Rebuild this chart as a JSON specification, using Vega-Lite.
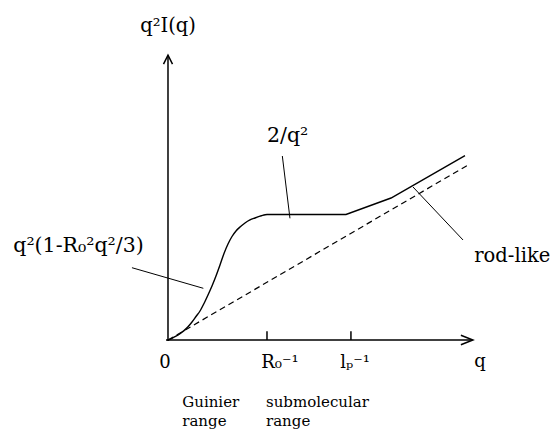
{
  "$schema": "https://vega.github.io/schema/vega-lite/v6.json",
  "autosize": {"type": "fit", "contains": "padding"},
  "width": 552,
  "height": 430,
  "padding": 0,
  "background": "white",
  "config": {"view": {"stroke": null}},
  "datasets": {
    "axes": [
      {"q": -0.02, "q2I": 0, "q_end": 3.07, "q2I_end": 0},
      {"q": 0, "q2I": -0.016, "q_end": 0, "q2I_end": 4.53},
      {"q": 1.0, "q2I": 0, "q_end": 1.0, "q2I_end": 0.14},
      {"q": 1.848, "q2I": 0, "q_end": 1.848, "q2I_end": 0.14}
    ],
    "q_arrow": [{"q": 3.08, "q2I": 0}],
    "intensity_arrow": [{"q": 0, "q2I": 4.54}],
    "guinier": [
      {"q": 0, "q2I": 0},
      {"q": 0.0404, "q2I": 0.0271},
      {"q": 0.0808, "q2I": 0.0606},
      {"q": 0.1212, "q2I": 0.1004},
      {"q": 0.1616, "q2I": 0.1498},
      {"q": 0.202, "q2I": 0.2104},
      {"q": 0.2424, "q2I": 0.2869},
      {"q": 0.2828, "q2I": 0.3745},
      {"q": 0.3232, "q2I": 0.4622},
      {"q": 0.3636, "q2I": 0.5817},
      {"q": 0.404, "q2I": 0.7171},
      {"q": 0.4444, "q2I": 0.8606},
      {"q": 0.4848, "q2I": 1.0199},
      {"q": 0.5253, "q2I": 1.1952},
      {"q": 0.5657, "q2I": 1.3785},
      {"q": 0.6061, "q2I": 1.5299},
      {"q": 0.6465, "q2I": 1.6494},
      {"q": 0.6869, "q2I": 1.7371},
      {"q": 0.7273, "q2I": 1.8008},
      {"q": 0.7778, "q2I": 1.8645},
      {"q": 0.8283, "q2I": 1.9124},
      {"q": 0.8788, "q2I": 1.9442},
      {"q": 0.9293, "q2I": 1.9729},
      {"q": 0.9697, "q2I": 1.992},
      {"q": 1.0, "q2I": 2.0}
    ],
    "plateau_rod": [
      {"q": 1.0, "q2I": 2.0},
      {"q": 1.798, "q2I": 2.0},
      {"q": 2.253, "q2I": 2.263},
      {"q": 3.0, "q2I": 2.937}
    ],
    "rod_asymptote": [
      {"q": 0, "q2I": 0},
      {"q": 3.05, "q2I": 2.806}
    ],
    "leaders": [
      {"q": -0.364, "q2I": 1.152, "q_end": 0.357, "q2I_end": 0.824},
      {"q": 1.155, "q2I": 2.932, "q_end": 1.232, "q2I_end": 1.939},
      {"q": 2.475, "q2I": 2.438, "q_end": 2.98, "q2I_end": 1.594}
    ],
    "formulas": [
      {"q": 1.0, "q2I": 3.16, "text": "2/q²"},
      {"q": -1.563, "q2I": 1.407, "text": "q²(1-R₀²q²/3)"}
    ],
    "regimes": [
      {"q": 3.094, "q2I": 1.248, "text": "rod-like"}
    ],
    "axis_titles": [
      {"q": 0, "q2I": 4.913, "text": "q²I(q)"}
    ],
    "tick_labels": [
      {"q": -0.03, "q2I": -0.451, "text": "0"},
      {"q": 1.131, "q2I": -0.451, "text": "R₀⁻¹"},
      {"q": 1.889, "q2I": -0.451, "text": "lₚ⁻¹"},
      {"q": 3.152, "q2I": -0.43, "text": "q"}
    ],
    "ranges": [
      {"q": 0.144, "q2I": -1.073, "text": "Guinier"},
      {"q": 0.144, "q2I": -1.371, "text": "range"},
      {"q": 0.99, "q2I": -1.073, "text": "submolecular"},
      {"q": 0.99, "q2I": -1.371, "text": "range"}
    ]
  },
  "encoding": {
    "x": {"field": "q", "type": "quantitative", "scale": {"domain": [-1.697, 3.879], "nice": false, "zero": false}, "axis": null},
    "y": {"field": "q2I", "type": "quantitative", "scale": {"domain": [-1.434, 5.418], "nice": false, "zero": false}, "axis": null}
  },
  "layer": [
    {
      "data": {"name": "axes"},
      "mark": {"type": "rule", "color": "black", "strokeWidth": 1.5},
      "encoding": {"x2": {"field": "q_end"}, "y2": {"field": "q2I_end"}}
    },
    {
      "data": {"name": "q_arrow"},
      "mark": {"type": "point", "shape": "M-1,-0.4L0,0L-1,0.4", "size": 576, "filled": false, "color": "black", "strokeWidth": 1.5, "opacity": 1, "angle": 0},
      "encoding": {}
    },
    {
      "data": {"name": "intensity_arrow"},
      "mark": {"type": "point", "shape": "M-1,-0.5L0,0L-1,0.5", "size": 324, "filled": false, "color": "black", "strokeWidth": 1.5, "opacity": 1, "angle": 270},
      "encoding": {}
    },
    {
      "data": {"name": "rod_asymptote"},
      "mark": {"type": "line", "color": "black", "strokeWidth": 1.2, "strokeDash": [6, 4]},
      "encoding": {}
    },
    {
      "data": {"name": "guinier"},
      "mark": {"type": "line", "color": "black", "strokeWidth": 1.4, "interpolate": "monotone"},
      "encoding": {}
    },
    {
      "data": {"name": "plateau_rod"},
      "mark": {"type": "line", "color": "black", "strokeWidth": 1.4},
      "encoding": {}
    },
    {
      "data": {"name": "leaders"},
      "mark": {"type": "rule", "color": "black", "strokeWidth": 1},
      "encoding": {"x2": {"field": "q_end"}, "y2": {"field": "q2I_end"}}
    },
    {
      "data": {"name": "formulas"},
      "mark": {"type": "text", "font": "DejaVu Serif", "fontSize": 20.5, "align": "left", "baseline": "alphabetic", "color": "black"},
      "encoding": {"text": {"field": "text"}}
    },
    {
      "data": {"name": "regimes"},
      "mark": {"type": "text", "font": "DejaVu Serif", "fontSize": 19.5, "align": "left", "baseline": "alphabetic", "color": "black"},
      "encoding": {"text": {"field": "text"}}
    },
    {
      "data": {"name": "axis_titles"},
      "mark": {"type": "text", "font": "DejaVu Serif", "fontSize": 19.5, "align": "center", "baseline": "alphabetic", "color": "black"},
      "encoding": {"text": {"field": "text"}}
    },
    {
      "data": {"name": "tick_labels"},
      "mark": {"type": "text", "font": "DejaVu Serif", "fontSize": 18, "align": "center", "baseline": "alphabetic", "color": "black"},
      "encoding": {"text": {"field": "text"}}
    },
    {
      "data": {"name": "ranges"},
      "mark": {"type": "text", "font": "DejaVu Serif", "fontSize": 15, "align": "left", "baseline": "alphabetic", "color": "black"},
      "encoding": {"text": {"field": "text"}}
    }
  ]
}
